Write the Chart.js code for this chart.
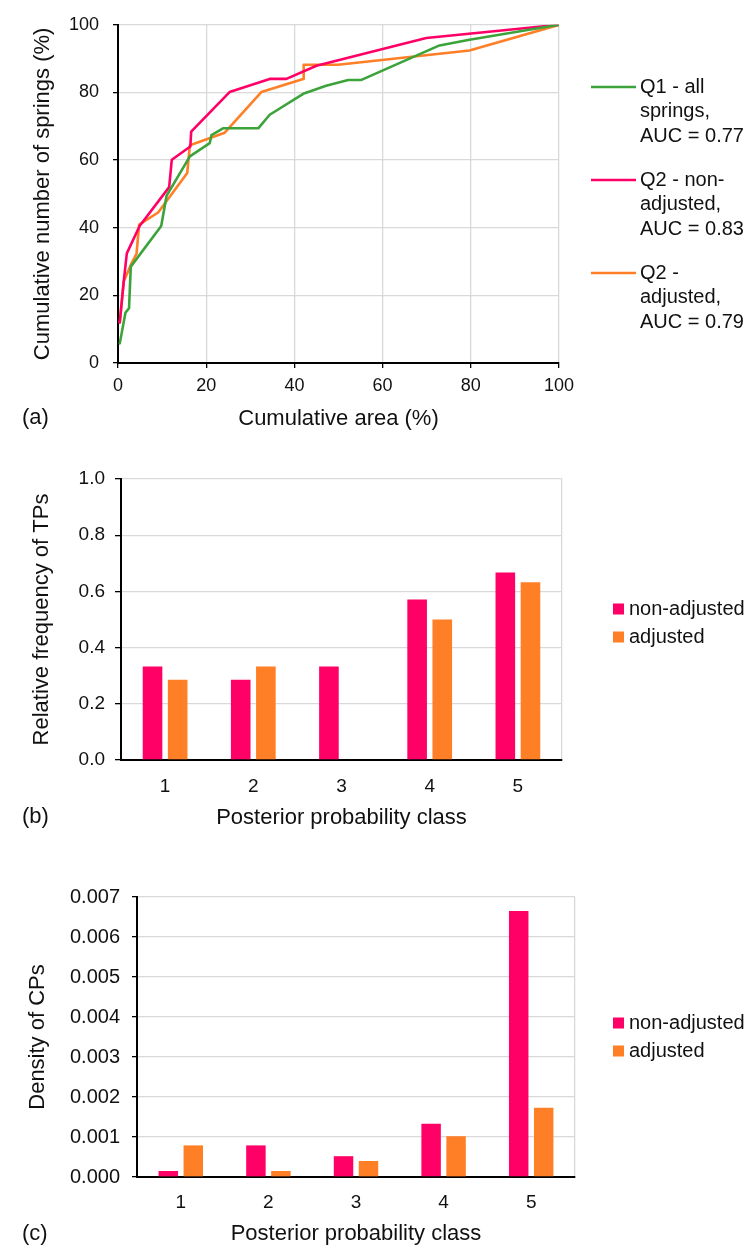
<!DOCTYPE html>
<html>
<head>
<meta charset="utf-8">
<script src="https://cdn.jsdelivr.net/npm/chart.js@4/dist/chart.umd.min.js"></script>
<style>
  html, body { margin: 0; padding: 0; background: #fff; }
  body { width: 750px; height: 1248px; position: relative; overflow: hidden; }
  canvas { position: absolute; left: 0; }
</style>
</head>
<body>
<canvas id="cA" width="750" height="440" style="top:0px"></canvas>
<canvas id="cB" width="750" height="400" style="top:440px"></canvas>
<canvas id="cC" width="750" height="408" style="top:840px"></canvas>
<script>
// ---------- DATA ----------
// (a) cumulative curves
const q1X  = [0.4, 1.7, 2.5, 2.9, 9.8, 11.0, 16.3, 20.8, 21.2, 23.8, 31.8, 34.4, 42.0, 47.2, 52.2, 55.2, 72.9, 79.7, 100];
const q1Y  = [5.8, 14.9, 16.2, 28.5, 40.5, 49.4, 61.1, 65.0, 67.4, 69.4, 69.4, 73.4, 79.6, 82.0, 83.7, 83.7, 93.9, 95.6, 100];
const q2nX = [0.4, 1.3, 2.0, 4.9, 11.6, 12.2, 16.4, 16.6, 25.3, 34.4, 38.2, 45.0, 69.9, 79.0, 100];
const q2nY = [12.0, 24.1, 32.4, 40.5, 52.0, 60.1, 64.0, 68.4, 80.1, 84.0, 84.0, 87.9, 96.1, 97.3, 100];
const q2aX = [0.4, 1.3, 3.0, 4.2, 4.8, 9.1, 15.7, 16.3, 24.2, 32.5, 42.0, 42.1, 49.9, 79.7, 100];
const q2aY = [12.0, 24.1, 29.3, 32.3, 40.9, 44.5, 56.2, 64.4, 68.1, 80.1, 84.0, 88.2, 88.2, 92.4, 100];
const curveNames = [
  ["Q1 - all", "springs,", "AUC = 0.77"],
  ["Q2 - non-", "adjusted,", "AUC = 0.83"],
  ["Q2 -", "adjusted,", "AUC = 0.79"]
];
const axisTicks = [0, 20, 40, 60, 80, 100];

// (b) relative frequency of TPs
const classes = ["1", "2", "3", "4", "5"];
const tpNonAdjusted = [0.333, 0.286, 0.333, 0.571, 0.667];
const tpAdjusted    = [0.286, 0.333, 0, 0.5, 0.633];

// (c) density of CPs
const cpNonAdjusted = [0.00015, 0.00079, 0.00052, 0.00133, 0.00665];
const cpAdjusted    = [0.00079, 0.00015, 0.00040, 0.00102, 0.00173];

const barNames = ["non-adjusted", "adjusted"];

// ---------- STYLE ----------
const GREEN = '#3ca33a', PINK = '#ff0066', ORANGE = '#ff7f27';
const GRID = '#d9d9d9', TXT = '#111';
const FAM = '"Liberation Sans", Arial, sans-serif';

const sideLegend = {
  id: 'sideLegend',
  afterDraw(chart, args, o) {
    const ctx = chart.ctx;
    ctx.save();
    ctx.font = o.size + 'px ' + FAM;
    ctx.fillStyle = TXT;
    ctx.textBaseline = 'middle';
    ctx.textAlign = 'left';
    chart.data.datasets.forEach((ds, i) => {
      const lines = Array.isArray(ds.label) ? ds.label : [ds.label];
      const y0 = o.top + i * o.groupGap;
      if (o.marker === 'line') {
        ctx.strokeStyle = ds.borderColor;
        ctx.lineWidth = ds.borderWidth;
        ctx.beginPath();
        ctx.moveTo(o.markerX, y0);
        ctx.lineTo(o.markerX + o.markerW, y0);
        ctx.stroke();
      } else {
        ctx.fillStyle = ds.backgroundColor;
        ctx.fillRect(o.markerX, y0 - o.markerW / 2, o.markerW, o.markerW);
        ctx.fillStyle = TXT;
      }
      lines.forEach((t, k) => ctx.fillText(t, o.textX, y0 + k * o.lineGap));
    });
    if (o.panel) {
      ctx.font = o.panelSize + 'px ' + FAM;
      ctx.fillText(o.panel, o.panelX, o.panelY);
    }
    ctx.restore();
  }
};

function tickFont(s) { return { family: FAM, size: s }; }

// ---------- CHART A ----------
const mk = (xs, ys) => xs.map((x, i) => ({ x: x, y: ys[i] }));
new Chart(document.getElementById('cA'), {
  type: 'line',
  data: {
    datasets: [
      { label: curveNames[0], data: mk(q1X, q1Y), borderColor: GREEN, borderWidth: 2.6 },
      { label: curveNames[1], data: mk(q2nX, q2nY), borderColor: PINK, borderWidth: 2.6 },
      { label: curveNames[2], data: mk(q2aX, q2aY), borderColor: ORANGE, borderWidth: 2.6 }
    ]
  },
  plugins: [sideLegend],
  options: {
    responsive: false, animation: false,
    layout: { padding: { left: 0, top: 20, right: 191, bottom: 0 } },
    elements: { point: { radius: 0 }, line: { tension: 0, borderJoinStyle: 'round', borderCapStyle: 'round' } },
    plugins: {
      legend: { display: false }, tooltip: { enabled: false },
      sideLegend: { size: 20, top: 87, groupGap: 93, lineGap: 24.5, marker: 'line', markerX: 591, markerW: 45, textX: 640,
                    panel: '(a)', panelSize: 22, panelX: 22, panelY: 418 }
    },
    scales: {
      x: {
        type: 'linear', min: 0, max: 100,
        afterBuildTicks: s => { s.ticks = axisTicks.map(v => ({ value: v })); },
        afterFit: s => { s.height = 77; },
        grid: { color: GRID, lineWidth: 1.3, tickColor: '#000', tickLength: 5 },
        border: { color: '#000', width: 2 },
        ticks: { font: tickFont(18), color: TXT, padding: 7, maxRotation: 0 },
        title: { display: true, text: 'Cumulative area (%)', font: { family: FAM, size: 22 }, color: TXT, padding: { top: 0, bottom: 8 } }
      },
      y: {
        type: 'linear', min: 0, max: 100,
        afterBuildTicks: s => { s.ticks = axisTicks.map(v => ({ value: v })); },
        afterFit: s => { s.width = 118; },
        grid: { color: GRID, lineWidth: 1.3, tickColor: '#000', tickLength: 5 },
        border: { color: '#000', width: 2 },
        ticks: { font: tickFont(18), color: TXT, padding: 14 },
        title: { display: true, text: 'Cumulative number of springs (%)', font: { family: FAM, size: 22 }, color: TXT, padding: { top: 30, bottom: 0 } }
      }
    }
  }
});

// ---------- BAR CHART HELPER ----------
function barChart(id, nonAdj, adj, o) {
  new Chart(document.getElementById(id), {
    type: 'bar',
    data: {
      labels: classes,
      datasets: [
        { label: barNames[0], data: nonAdj, backgroundColor: PINK, categoryPercentage: 0.57, barPercentage: 0.78 },
        { label: barNames[1], data: adj, backgroundColor: ORANGE, categoryPercentage: 0.57, barPercentage: 0.78 }
      ]
    },
    plugins: [sideLegend],
    options: {
      responsive: false, animation: false,
      layout: { padding: { left: 0, top: o.top, right: o.right, bottom: 0 } },
      plugins: {
        legend: { display: false }, tooltip: { enabled: false },
        sideLegend: { size: 20, top: o.legTop, groupGap: 28, lineGap: 0, marker: 'box', markerX: 613, markerW: 11, textX: 629,
                      panel: o.panel, panelSize: 22, panelX: 22, panelY: o.panelY }
      },
      scales: {
        x: {
          afterFit: s => { s.height = o.xh; },
          grid: { color: c => c.type === 'tick' ? 'rgba(0,0,0,0)' : GRID, lineWidth: 1.3, drawTicks: false },
          border: { color: '#000', width: 2 },
          ticks: { font: tickFont(19), color: TXT, padding: o.xpad },
          title: { display: true, text: 'Posterior probability class', font: { family: FAM, size: 22 }, color: TXT, padding: { top: 0, bottom: o.xtpad } }
        },
        y: {
          min: 0, max: o.max,
          afterBuildTicks: s => { s.ticks = o.ticks.map(v => ({ value: v })); },
          afterFit: s => { s.width = o.yw; },
          grid: { color: GRID, lineWidth: 1.3, tickColor: '#000', tickLength: o.tl },
          border: { color: '#000', width: 2 },
          ticks: { font: tickFont(o.yfs), color: TXT, padding: o.ypad, callback: v => Number(v).toFixed(o.dec) },
          title: { display: true, text: o.ytitle, font: { family: FAM, size: 22 }, color: TXT, padding: { top: o.ytpad, bottom: 0 } }
        }
      }
    }
  });
}

const tpTicks = [0, 0.2, 0.4, 0.6, 0.8, 1.0];
const cpTicks = [0, 0.001, 0.002, 0.003, 0.004, 0.005, 0.006, 0.007];

barChart('cB', tpNonAdjusted, tpAdjusted, {
  top: 39, right: 188, xh: 80, yw: 121, max: 1.0, ticks: tpTicks, dec: 1, tl: 6, ypad: 10, yfs: 19,
  xpad: 15, xtpad: 9, ytpad: 29, ytitle: 'Relative frequency of TPs', legTop: 169, panel: '(b)', panelY: 377
});
barChart('cC', cpNonAdjusted, cpAdjusted, {
  top: 57, right: 175, xh: 71, yw: 137, max: 0.007, ticks: cpTicks, dec: 3, tl: 5, ypad: 12, yfs: 20,
  xpad: 14, xtpad: 1, ytpad: 25, ytitle: 'Density of CPs', legTop: 183, panel: '(c)', panelY: 394
});
</script>
</body>
</html>
